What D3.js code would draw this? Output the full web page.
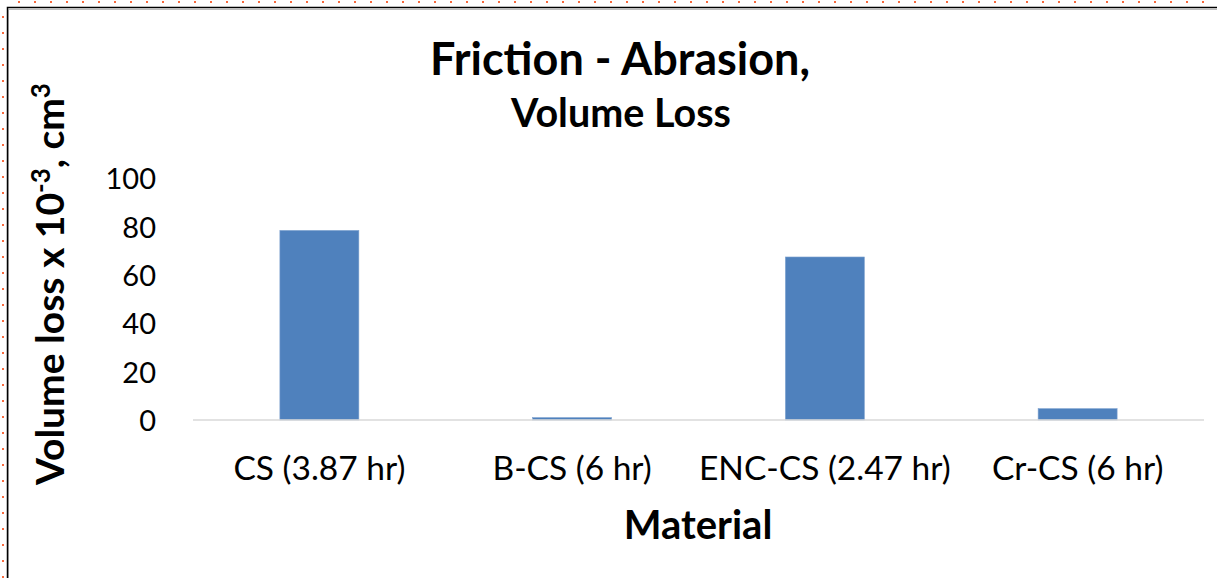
<!DOCTYPE html>
<html>
<head>
<meta charset="utf-8">
<script src="https://cdn.jsdelivr.net/npm/d3@7"></script>
<style>
  html, body { margin: 0; padding: 0; background: #fff; }
  svg { display: block; }
  text { font-family: Lato, "Open Sans", sans-serif; fill: #000; }
</style>
</head>
<body>
<svg id="chart" width="1217" height="578"></svg>
<script>
// Volume loss (x 10^-3 cm^3) per material and test duration
const categories = ["CS (3.87 hr)", "B-CS (6 hr)", "ENC-CS (2.47 hr)", "Cr-CS (6 hr)"];
const volumeLoss = [78.5, 1.0, 67.5, 4.7];
const yTicks = [0, 20, 40, 60, 80, 100];

const W = 1217, H = 578;
const svg = d3.select("#chart");

// frame: dotted marker row/column and the black sheet edge
const dotColor = "#f8693d";
svg.append("g").selectAll("rect")
  .data(d3.range(18, W, 16))
  .join("rect")
  .attr("x", d => d).attr("y", 1).attr("width", 2).attr("height", 2)
  .attr("fill", dotColor);
svg.append("g").selectAll("rect")
  .data(d3.range(16, H, 16))
  .join("rect")
  .attr("x", 2).attr("y", d => d).attr("width", 2).attr("height", 2)
  .attr("fill", dotColor);
svg.append("path")
  .attr("d", `M8.5,${H + 5}V9.5H${W + 5}`)
  .attr("fill", "none").attr("stroke", "#bdbdbd").attr("stroke-width", 1);
svg.append("path")
  .attr("d", `M7.5,${H + 5}V7.5H${W + 5}`)
  .attr("fill", "none").attr("stroke", "#000").attr("stroke-width", 1.5);

// scales
const x = d3.scaleBand()
  .domain(categories)
  .range([193, 1204])
  .paddingInner(0.6875)
  .paddingOuter(0.34375);
const y = d3.scaleLinear().domain([0, 100]).range([420, 178.5]);

// bars
svg.append("g").selectAll("rect")
  .data(volumeLoss)
  .join("rect")
  .attr("x", (d, i) => x(categories[i]))
  .attr("y", d => y(d))
  .attr("width", x.bandwidth())
  .attr("height", d => y(0) - y(d))
  .attr("fill", "#4f81bd")
  .attr("stroke", "#7ea2cf")
  .attr("stroke-width", 0.6);

// category axis
const xAxis = svg.append("g")
  .attr("transform", `translate(0,${y(0)})`)
  .call(d3.axisBottom(x).tickSize(0).tickPadding(0));
xAxis.select(".domain")
  .attr("d", `M${x.range()[0]},0H${x.range()[1]}`)
  .attr("stroke", "#d9d9d9").attr("stroke-width", 1.5);
xAxis.selectAll(".tick text")
  .attr("y", 60).attr("dy", null)
  .style("font-size", "33.5px").style("font-family", "Lato, sans-serif")
  .attr("fill", "#000");

// value axis (labels only)
const yAxis = svg.append("g")
  .attr("transform", "translate(156,0)")
  .call(d3.axisLeft(y).tickValues(yTicks).tickSize(0).tickPadding(0));
yAxis.select(".domain").remove();
yAxis.selectAll(".tick text")
  .attr("dy", "0.36em")
  .style("font-size", "29px").style("font-family", "Lato, sans-serif")
  .attr("fill", "#000");

// titles
svg.append("text")
  .attr("x", 620).attr("y", 75)
  .attr("text-anchor", "middle")
  .style("font-size", "45px").style("font-weight", "bold")
  .text("Friction - Abrasion,");
svg.append("text")
  .attr("x", 621).attr("y", 127)
  .attr("text-anchor", "middle")
  .style("font-size", "39.5px").style("font-weight", "bold")
  .text("Volume Loss");

svg.append("text")
  .attr("x", 698).attr("y", 539)
  .attr("text-anchor", "middle")
  .style("font-size", "40px").style("font-weight", "bold")
  .text("Material");

const yTitle = svg.append("text")
  .attr("transform", "translate(64,284) rotate(-90)")
  .attr("text-anchor", "middle")
  .style("font-size", "39px").style("font-weight", "bold");
yTitle.append("tspan").text("Volume loss x 10");
yTitle.append("tspan").attr("dy", -14).style("font-size", "26px").text("-3");
yTitle.append("tspan").attr("dy", 14).text(", cm");
yTitle.append("tspan").attr("dy", -14).style("font-size", "26px").text("3");
</script>
</body>
</html>
